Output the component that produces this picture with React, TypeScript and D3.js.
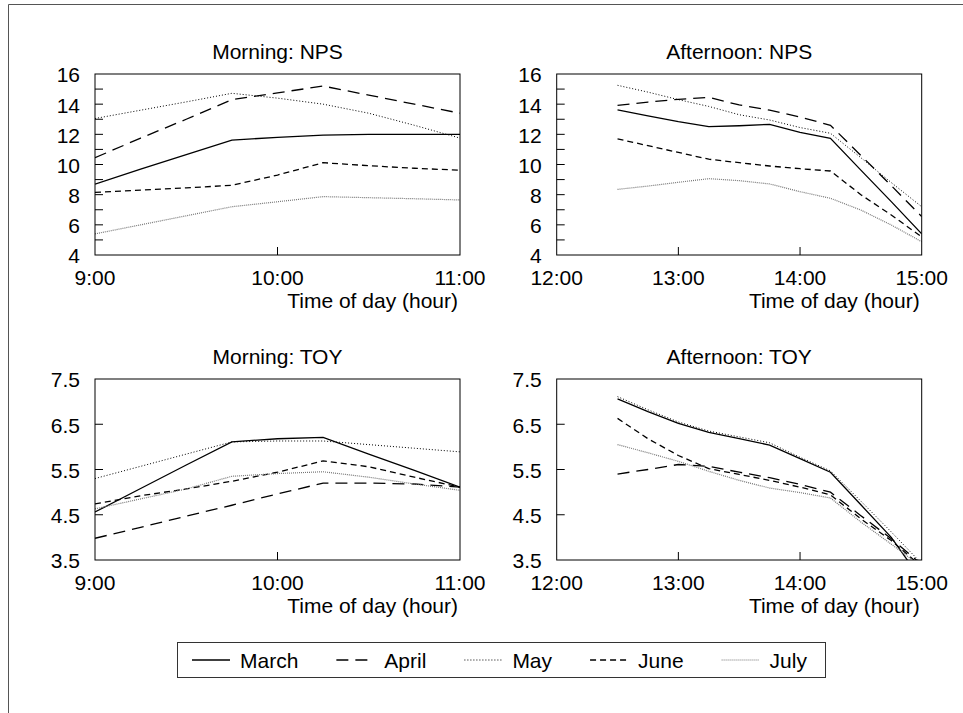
import * as d3 from "d3";
import { useEffect, useRef } from "react";

// months, in legend order
const months = ["March", "April", "May", "June", "July"];

// sampling times (hours), every 15 minutes
const morningHours = [9, 9.25, 9.5, 9.75, 10, 10.25, 10.5, 10.75, 11];
const afternoonHours = [12.5, 12.75, 13, 13.25, 13.5, 13.75, 14, 14.25, 14.5, 14.75, 15];

// tick labels
const morningTicks = ["9:00", "10:00", "11:00"];
const afternoonTicks = ["12:00", "13:00", "14:00", "15:00"];
const npsTicks = [4, 6, 8, 10, 12, 14, 16];
const toyTicks = [3.5, 4.5, 5.5, 6.5, 7.5];

// one row per month (March..July)
const morningNps = [
  [8.7, 9.7, 10.65, 11.62, 11.8, 11.95, 12.0, 12.0, 12.0],
  [10.45, 11.75, 13.0, 14.3, 14.75, 15.2, 14.6, 14.0, 13.4],
  [13.05, 13.6, 14.15, 14.72, 14.4, 14.0, 13.4, 12.6, 11.75],
  [8.15, 8.3, 8.45, 8.62, 9.3, 10.12, 9.92, 9.75, 9.62],
  [5.4, 6.0, 6.6, 7.2, 7.53, 7.87, 7.8, 7.73, 7.65],
];

const afternoonNps = [
  [13.62, 13.22, 12.84, 12.51, 12.57, 12.66, 12.13, 11.73, 9.63, 7.54, 5.4],
  [13.92, 14.14, 14.32, 14.45, 13.95, 13.6, 13.15, 12.6, 10.6, 8.6, 6.55],
  [15.25, 14.8, 14.3, 13.85, 13.3, 12.95, 12.45, 12.07, 10.45, 8.8, 7.2],
  [11.7, 11.25, 10.8, 10.35, 10.12, 9.9, 9.72, 9.57, 8.0, 6.65, 5.2],
  [8.35, 8.57, 8.82, 9.06, 8.93, 8.71, 8.2, 7.76, 6.98, 5.99, 4.88],
];

const morningToy = [
  [4.56, 5.08, 5.6, 6.11, 6.18, 6.21, 5.84, 5.48, 5.11],
  [3.98, 4.22, 4.47, 4.71, 4.96, 5.2, 5.2, 5.18, 5.11],
  [5.3, 5.57, 5.84, 6.11, 6.13, 6.13, 6.05, 5.97, 5.89],
  [4.74, 4.92, 5.07, 5.24, 5.44, 5.69, 5.56, 5.33, 5.11],
  [4.63, 4.85, 5.07, 5.35, 5.41, 5.45, 5.33, 5.18, 5.04],
];

const afternoonToy = [
  [7.06, 6.78, 6.52, 6.32, 6.18, 6.04, 5.74, 5.44, 4.72, 4.0, 3.05],
  [5.4, 5.5, 5.61, 5.57, 5.44, 5.32, 5.17, 5.0, 4.48, 3.97, 3.4],
  [7.11, 6.82, 6.55, 6.35, 6.22, 6.09, 5.77, 5.47, 4.8, 4.12, 3.42],
  [6.63, 6.18, 5.81, 5.52, 5.39, 5.26, 5.11, 4.94, 4.41, 3.93, 3.35],
  [6.05, 5.87, 5.68, 5.46, 5.26, 5.09, 4.99, 4.87, 4.34, 3.85, 3.35],
];

// line look per month
const lineStyles = [
  { dash: "", width: 1.3, color: "#000" },
  { dash: "12,7", width: 1.3, color: "#000" },
  { dash: "1,2", width: 1, color: "#000" },
  { dash: "6,4", width: 1.3, color: "#000" },
  { dash: "1,1", width: 1.2, color: "#777" },
];

const FONT = "'Liberation Sans', Arial, Helvetica, sans-serif";
const FS = 21;
const W = 365;
const H = 181;

const hourOf = (t: string) => +t.split(":")[0];

type Panel = {
  x0: number;
  y0: number;
  title: string;
  hours: number[];
  series: number[][];
  xTicks: string[];
  yTicks: number[];
  yMarks: number[];
};

export default function App() {
  const ref = useRef<SVGSVGElement>(null);

  useEffect(() => {
    const svg = d3.select(ref.current);
    svg.selectAll("*").remove();

    // outer figure frame (top + left only)
    svg.append("path")
      .attr("d", "M8.5,713V4.5H963")
      .attr("fill", "none")
      .attr("stroke", "#555")
      .attr("stroke-width", 1);

    const npsMarks = d3.range(5, 16);
    const toyMarks = [4.5, 5.5, 6.5];

    const panels: Panel[] = [
      { x0: 95, y0: 74, title: "Morning: NPS", hours: morningHours, series: morningNps, xTicks: morningTicks, yTicks: npsTicks, yMarks: npsMarks },
      { x0: 556.7, y0: 74, title: "Afternoon: NPS", hours: afternoonHours, series: afternoonNps, xTicks: afternoonTicks, yTicks: npsTicks, yMarks: npsMarks },
      { x0: 95, y0: 379, title: "Morning: TOY", hours: morningHours, series: morningToy, xTicks: morningTicks, yTicks: toyTicks, yMarks: toyMarks },
      { x0: 556.7, y0: 379, title: "Afternoon: TOY", hours: afternoonHours, series: afternoonToy, xTicks: afternoonTicks, yTicks: toyTicks, yMarks: toyMarks },
    ];

    panels.forEach((p, pi) => {
      const xHours = p.xTicks.map(hourOf);
      const x = d3.scaleLinear()
        .domain([xHours[0], xHours[xHours.length - 1]])
        .range([p.x0, p.x0 + W]);
      const y = d3.scaleLinear()
        .domain([p.yTicks[0], p.yTicks[p.yTicks.length - 1]])
        .range([p.y0 + H, p.y0]);

      const g = svg.append("g");

      // clip
      const clipId = `clip${pi}`;
      svg.append("clipPath").attr("id", clipId)
        .append("rect")
        .attr("x", p.x0).attr("y", p.y0)
        .attr("width", W).attr("height", H);

      const line = d3.line<number>()
        .x((_, i) => x(p.hours[i]))
        .y(d => y(d));

      p.series.forEach((vals, si) => {
        const st = lineStyles[si];
        g.append("path")
          .attr("clip-path", `url(#${clipId})`)
          .attr("d", line(vals))
          .attr("fill", "none")
          .attr("stroke", st.color)
          .attr("stroke-width", st.width)
          .attr("stroke-dasharray", st.dash || null);
      });

      // inner tick marks
      g.selectAll(null).data(p.yMarks).enter().append("line")
        .attr("x1", p.x0).attr("x2", p.x0 + 8)
        .attr("y1", d => y(d)).attr("y2", d => y(d))
        .attr("stroke", "#000");
      g.selectAll(null).data(xHours.slice(1, -1)).enter().append("line")
        .attr("x1", d => x(d)).attr("x2", d => x(d))
        .attr("y1", p.y0 + H).attr("y2", p.y0 + H - 8)
        .attr("stroke", "#000");

      // box
      g.append("rect")
        .attr("x", p.x0).attr("y", p.y0)
        .attr("width", W).attr("height", H)
        .attr("fill", "none")
        .attr("stroke", "#000")
        .attr("stroke-width", 1);

      const text = (sel: any) => sel
        .attr("font-family", FONT)
        .attr("font-size", FS)
        .attr("fill", "#000");

      // y labels
      g.selectAll(null).data(p.yTicks).enter().append("text")
        .call(text)
        .attr("x", p.x0 - 15)
        .attr("y", d => y(d))
        .attr("dy", "0.4em")
        .attr("text-anchor", "end")
        .text(d => String(d));

      // x labels
      g.selectAll(null).data(p.xTicks).enter().append("text")
        .call(text)
        .attr("x", d => x(hourOf(d)))
        .attr("y", p.y0 + H + 29.5)
        .attr("text-anchor", "middle")
        .text(d => d);

      g.append("text").call(text)
        .attr("x", p.x0 + W - 2)
        .attr("y", p.y0 + H + 53)
        .attr("text-anchor", "end")
        .text("Time of day (hour)");

      g.append("text").call(text)
        .attr("x", p.x0 + W / 2)
        .attr("y", p.y0 - 15)
        .attr("text-anchor", "middle")
        .text(p.title);
    });

    // legend
    const leg = svg.append("g");
    leg.append("rect")
      .attr("x", 177.5).attr("y", 642.5)
      .attr("width", 648).attr("height", 35)
      .attr("fill", "#fff")
      .attr("stroke", "#333");
    let cx = 192;
    const ly = 660;
    months.forEach((m, i) => {
      const st = lineStyles[i];
      leg.append("line")
        .attr("x1", cx).attr("x2", cx + 38)
        .attr("y1", ly).attr("y2", ly)
        .attr("stroke", st.color)
        .attr("stroke-width", st.width)
        .attr("stroke-dasharray", st.dash || null);
      const t = leg.append("text")
        .attr("font-family", FONT)
        .attr("font-size", FS)
        .attr("x", cx + 48)
        .attr("y", ly + 7.5)
        .text(m);
      const tw = (t.node() as SVGTextElement).getComputedTextLength();
      cx += 48 + tw + 38;
    });
  }, []);

  return (
    <svg
      ref={ref}
      width={963}
      height={713}
      style={{ position: "absolute", left: 0, top: 0, background: "#fff" }}
    />
  );
}
